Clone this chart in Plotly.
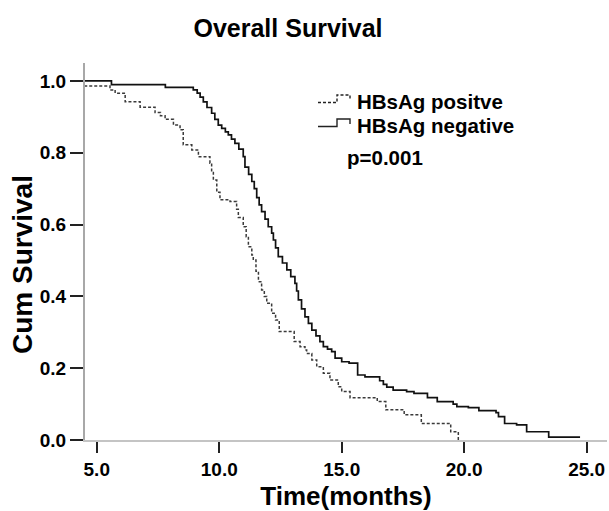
import plotly.graph_objects as go

# ---------------- data ----------------
neg_time = [0, 5.6, 7.8, 8.94, 9.1, 9.22, 9.35, 9.5, 9.69, 9.82, 9.96, 10.1, 10.25, 10.37,
            10.5, 10.64, 10.8, 10.98, 11.05, 11.2, 11.33, 11.43, 11.53, 11.63, 11.73, 11.87,
            12.0, 12.14, 12.21, 12.3, 12.41, 12.58, 12.76, 12.92, 13.09, 13.16, 13.23, 13.36,
            13.5, 13.64, 13.78, 13.95, 14.11, 14.25, 14.42, 14.59, 14.73, 15.0, 15.3, 15.65,
            15.95, 16.55, 16.7, 16.84, 17.1, 17.65, 17.95, 18.5, 18.9, 19.55, 19.7, 20.17,
            20.6, 21.3, 21.4, 21.65, 22.14, 22.55, 23.45, 24.73]
neg_surv = [1.0, 0.99, 0.982, 0.975, 0.966, 0.955, 0.942, 0.926, 0.91, 0.893, 0.877, 0.868,
            0.858, 0.85, 0.838, 0.826, 0.81, 0.789, 0.76, 0.74, 0.72, 0.70, 0.675, 0.655,
            0.636, 0.615, 0.594, 0.576, 0.557, 0.535, 0.511, 0.493, 0.474, 0.455, 0.436,
            0.415, 0.39, 0.365, 0.343, 0.325, 0.306, 0.29, 0.274, 0.26, 0.253, 0.246, 0.228,
            0.218, 0.214, 0.181, 0.176, 0.165, 0.155, 0.147, 0.139, 0.135, 0.13, 0.118,
            0.107, 0.100, 0.093, 0.09, 0.082, 0.076, 0.065, 0.046, 0.042, 0.023, 0.008, 0.008]

pos_time = [0, 4.3, 5.54, 5.75, 6.16, 6.77, 7.38, 7.6, 7.79, 8.13, 8.4, 8.53, 8.88, 9.15,
            9.62, 9.69, 9.76, 9.9, 10.03, 10.44, 10.71, 10.78, 10.98, 11.1, 11.19, 11.33,
            11.39, 11.5, 11.6, 11.73, 11.84, 11.94, 12.14, 12.3, 12.45, 13.06, 13.3, 13.5,
            13.57, 13.78, 13.98, 14.25, 14.52, 14.86, 15.0, 15.34, 16.45, 16.8, 17.55, 18.25,
            19.45, 19.76]
pos_surv = [1.0, 0.986, 0.975, 0.966, 0.942, 0.927, 0.912, 0.903, 0.893, 0.877, 0.864,
            0.822, 0.808, 0.789, 0.771, 0.745, 0.724, 0.69, 0.669, 0.664, 0.643, 0.62, 0.594,
            0.566, 0.538, 0.515, 0.501, 0.47, 0.441, 0.418, 0.40, 0.381, 0.353, 0.334, 0.302,
            0.274, 0.26, 0.251, 0.241, 0.223, 0.204, 0.186, 0.167, 0.148, 0.135, 0.118,
            0.107, 0.084, 0.07, 0.046, 0.023, 0.0]

x_ticks = [5.0, 10.0, 15.0, 20.0, 25.0]
x_tick_labels = ["5.0", "10.0", "15.0", "20.0", "25.0"]
y_ticks = [0.0, 0.2, 0.4, 0.6, 0.8, 1.0]
y_tick_labels = ["0.0", "0.2", "0.4", "0.6", "0.8", "1.0"]

series_names = ["HBsAg positve", "HBsAg negative"]
p_text = "p=0.001"

# ---------------- figure ----------------
W, H = 609, 511
PL, PR, PT, PB = 85, 607, 63, 440
L, R, T, B = PL, W - PR, PT, H - PB

def px(x):   # pixel -> paper
    return (x - PL) / (PR - PL)

def py(y):
    return (PB - y) / (PB - PT)

FONT = "Liberation Sans, Arial, sans-serif"

fig = go.Figure()
fig.add_trace(go.Scatter(x=pos_time, y=pos_surv, mode="lines", line_shape="hv",
                         line=dict(color="#3a3a3a", width=1.5, dash="3px,2px"),
                         name=series_names[0], showlegend=False))
fig.add_trace(go.Scatter(x=neg_time, y=neg_surv, mode="lines", line_shape="hv",
                         line=dict(color="#111111", width=1.7),
                         name=series_names[1], showlegend=False))

# legend icons (step shaped) and texts
def step_icon(y_low, y_high, dash):
    path = (f"M {px(318)} {py(y_low)} L {px(337)} {py(y_low)} L {px(337)} {py(y_high)} "
            f"L {px(350)} {py(y_high)} L {px(350)} {py(y_high + 5)}")
    return dict(type="path", xref="paper", yref="paper", path=path,
                line=dict(color="#222222", width=1.4, dash=dash))

fig.add_shape(step_icon(102.5, 95, "3px,2px"))
fig.add_shape(step_icon(126.5, 119, "solid"))

legend_font = dict(family=FONT, size=20.5, color="black", weight="bold")
fig.add_annotation(x=px(355), y=py(101), xref="paper", yref="paper", text=series_names[0],
                   showarrow=False, xanchor="left", yanchor="middle", font=legend_font)
fig.add_annotation(x=px(355), y=py(125.5), xref="paper", yref="paper", text=series_names[1],
                   showarrow=False, xanchor="left", yanchor="middle", font=legend_font)
fig.add_annotation(x=px(345), y=py(157), xref="paper", yref="paper", text=p_text,
                   showarrow=False, xanchor="left", yanchor="middle", font=legend_font)

# y axis title
fig.add_annotation(x=px(22), y=py(265), xref="paper", yref="paper", text="<b>Cum Survival</b>",
                   textangle=-90, showarrow=False, xanchor="center", yanchor="middle",
                   font=dict(family=FONT, size=28, color="black"))

fig.update_layout(
    width=W, height=H,
    margin=dict(l=L, r=R, t=T, b=B, pad=0),
    paper_bgcolor="white", plot_bgcolor="white",
    title=dict(text="<b>Overall Survival</b>", x=288 / W, xanchor="center",
               y=1 - 28 / H, yanchor="middle",
               font=dict(family=FONT, size=25, color="black")),
    xaxis=dict(range=[4.52, 25.83], tickvals=x_ticks, ticktext=x_tick_labels,
               showgrid=False, zeroline=False, showline=True, linecolor="#c4c4c4",
               linewidth=2, ticks="outside", ticklen=11, tickwidth=2, tickcolor="#222",
               tickfont=dict(family=FONT, size=19, color="black", weight="bold"),
               title=dict(text="<b>Time(months)</b>", standoff=10,
                          font=dict(family=FONT, size=26, color="black"))),
    yaxis=dict(range=[0, 1.05], tickvals=y_ticks, ticktext=y_tick_labels,
               showgrid=False, zeroline=False, showline=True, linecolor="#a8a8a8",
               linewidth=2, ticks="outside", ticklen=13, tickwidth=2, tickcolor="#222",
               tickfont=dict(family=FONT, size=19, color="black", weight="bold")),
)

fig.write_html("out.html",
               config={"displayModeBar": False},
               post_script="document.body.style.margin='0';"
                           "document.body.style.overflow='hidden';")
